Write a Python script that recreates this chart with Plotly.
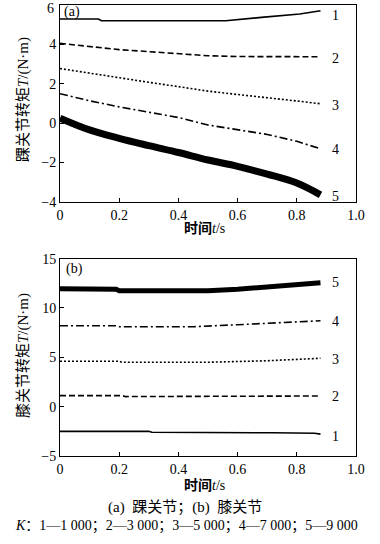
import plotly.graph_objects as go

W, H = 380, 544

# ---------------- data: (a) ankle joint ----------------
a1_t = [0, 0.13, 0.14, 0.56, 0.68, 0.81, 0.88]
a1_v = [5.29, 5.29, 5.2, 5.2, 5.37, 5.54, 5.71]
a_t = [0, 0.1, 0.2, 0.3, 0.4, 0.5, 0.6, 0.7, 0.8, 0.88]
a2_v = [4.05, 3.9, 3.73, 3.63, 3.53, 3.42, 3.38, 3.37, 3.37, 3.37]
a3_v = [2.77, 2.53, 2.3, 2.07, 1.85, 1.62, 1.45, 1.3, 1.12, 0.98]
a4_v = [1.49, 1.13, 0.82, 0.55, 0.28, -0.1, -0.33, -0.58, -0.93, -1.31]
a5_v = [0.25, -0.35, -0.78, -1.15, -1.5, -1.88, -2.2, -2.6, -3.05, -3.65]
a_label_y = [5.49, 3.29, 0.87, -1.37, -3.75]

# ---------------- data: (b) knee joint ----------------
b1_t = [0, 0.3, 0.31, 0.7, 0.72, 0.86, 0.88]
b1_v = [-2.5, -2.5, -2.6, -2.6, -2.65, -2.7, -2.78]
b2_t = [0, 0.21, 0.22, 0.58, 0.6, 0.88]
b2_v = [1.12, 1.12, 1.02, 1.02, 1.08, 1.08]
b3_t = [0, 0.2, 0.21, 0.5, 0.7, 0.88]
b3_v = [4.6, 4.6, 4.5, 4.5, 4.65, 4.9]
b4_t = [0, 0.19, 0.2, 0.45, 0.6, 0.75, 0.88]
b4_v = [8.2, 8.2, 8.1, 8.1, 8.3, 8.5, 8.7]
b5_t = [0, 0.19, 0.2, 0.5, 0.6, 0.7, 0.8, 0.88]
b5_v = [11.95, 11.9, 11.75, 11.75, 11.9, 12.1, 12.3, 12.55]
b_label_y = [-3.05, 1.0, 4.73, 8.6, 12.6]

curve_labels = ["1", "2", "3", "4", "5"]
x_ticks = [0, 0.2, 0.4, 0.6, 0.8, 1.0]
x_tick_text = ["0", "0.2", "0.4", "0.6", "0.8", "1.0"]
a_y_ticks = [-4, -2, 0, 2, 4, 6]
a_y_tick_text = ["−4", "−2", "0", "2", "4", ""]   # top label "6" drawn separately so it is not cut off
a_top_tick_text = "6"
b_y_ticks = [-5, 0, 5, 10, 15]

FONT = "'Liberation Serif', 'Times New Roman', 'Noto Sans CJK SC', serif"

def xd(l, r):
    return [l / W, r / W]

def yd(top, bottom):
    return [1 - bottom / H, 1 - top / H]

fig = go.Figure()

blk = "black"
styles = [
    dict(color=blk, width=1.6, dash="solid"),
    dict(color=blk, width=1.6, dash="6px,3px"),
    dict(color=blk, width=1.6, dash="2px,2px"),
    dict(color=blk, width=1.6, dash="8px,3px,2px,3px"),
]

# panel (a)
fig.add_trace(go.Scatter(x=a1_t, y=a1_v, mode="lines", line=styles[0], xaxis="x", yaxis="y"))
fig.add_trace(go.Scatter(x=a_t, y=a2_v, mode="lines", line=styles[1], xaxis="x", yaxis="y"))
fig.add_trace(go.Scatter(x=a_t, y=a3_v, mode="lines", line=styles[2], xaxis="x", yaxis="y"))
fig.add_trace(go.Scatter(x=a_t, y=a4_v, mode="lines", line=styles[3], xaxis="x", yaxis="y"))
fig.add_trace(go.Scatter(x=a_t, y=a5_v, mode="lines", line=dict(color=blk, width=7, shape="spline"),
                         xaxis="x", yaxis="y"))

# panel (b)
fig.add_trace(go.Scatter(x=b1_t, y=b1_v, mode="lines", line=styles[0], xaxis="x2", yaxis="y2"))
fig.add_trace(go.Scatter(x=b2_t, y=b2_v, mode="lines", line=styles[1], xaxis="x2", yaxis="y2"))
fig.add_trace(go.Scatter(x=b3_t, y=b3_v, mode="lines", line=styles[2], xaxis="x2", yaxis="y2"))
fig.add_trace(go.Scatter(x=b4_t, y=b4_v, mode="lines", line=styles[3], xaxis="x2", yaxis="y2"))
fig.add_trace(go.Scatter(x=b5_t, y=b5_v, mode="lines", line=dict(color=blk, width=5),
                         xaxis="x2", yaxis="y2"))

axis_common = dict(showline=True, linecolor=blk, linewidth=1, mirror=True, showgrid=False,
                   zeroline=False, ticks="inside", ticklen=4, tickcolor=blk, automargin=False,
                   ticklabeloverflow="allow",
                   tickfont=dict(family=FONT, size=14, color=blk))

fig.update_layout(
    width=W, height=H,
    margin=dict(l=0, r=0, t=0, b=0),
    paper_bgcolor="white", plot_bgcolor="white",
    showlegend=False,
    font=dict(family=FONT, color=blk),
    xaxis=dict(domain=xd(60, 356), range=[0, 1], tickvals=x_ticks, ticktext=x_tick_text,
               anchor="y", **axis_common),
    yaxis=dict(domain=yd(5, 201.7), range=[-4, 6], tickvals=a_y_ticks, ticktext=a_y_tick_text,
               anchor="x", **axis_common),
    xaxis2=dict(domain=xd(60, 356), range=[0, 1], tickvals=x_ticks, ticktext=x_tick_text,
                anchor="y2", **axis_common),
    yaxis2=dict(domain=yd(258.6, 456), range=[-5, 15], tickvals=b_y_ticks, anchor="x2", **axis_common),
)

ann = []
for lab, yv in zip(curve_labels, a_label_y):
    ann.append(dict(x=0.93, y=yv, xref="x", yref="y", text=lab, showarrow=False,
                    xanchor="center", yanchor="middle", font=dict(family=FONT, size=14, color=blk)))
for lab, yv in zip(curve_labels, b_label_y):
    ann.append(dict(x=0.93, y=yv, xref="x2", yref="y2", text=lab, showarrow=False,
                    xanchor="center", yanchor="middle", font=dict(family=FONT, size=14, color=blk)))

def px_ann(x, y, text, size=14, xanchor="center", yanchor="middle", angle=0):
    return dict(x=x / W, y=1 - y / H, xref="paper", yref="paper", text=text,
                showarrow=False, xanchor=xanchor, yanchor=yanchor, textangle=angle,
                font=dict(family=FONT, size=size, color=blk))

ann.append(px_ann(56, -1, a_top_tick_text, 14, xanchor="right", yanchor="top"))
ann.append(px_ann(62, 12, "(a)", 14, xanchor="left"))
ann.append(px_ann(64, 269, "(b)", 14, xanchor="left"))
ann.append(px_ann(23, 100, "踝关节转矩<i>T</i>/(N·m)", 15, angle=-90))
ann.append(px_ann(23, 356, "膝关节转矩<i>T</i>/(N·m)", 15, angle=-90))
ann.append(px_ann(204, 229, "<b>时间</b><i>t</i>/s", 14))
ann.append(px_ann(204, 485, "<b>时间</b><i>t</i>/s", 14))
ann.append(px_ann(185, 507, "(a)  踝关节；(b)  膝关节", 15))
ann.append(px_ann(186, 526, "<i>K</i>：1—1 000；2—3 000；3—5 000；4—7 000；5—9 000", 14))

fig.update_layout(annotations=ann)

# remove the page's default body margin so the figure sits at the window's top-left corner
fig.write_html("out.html", config={"displayModeBar": False},
               post_script="document.body.style.margin='0px';")
